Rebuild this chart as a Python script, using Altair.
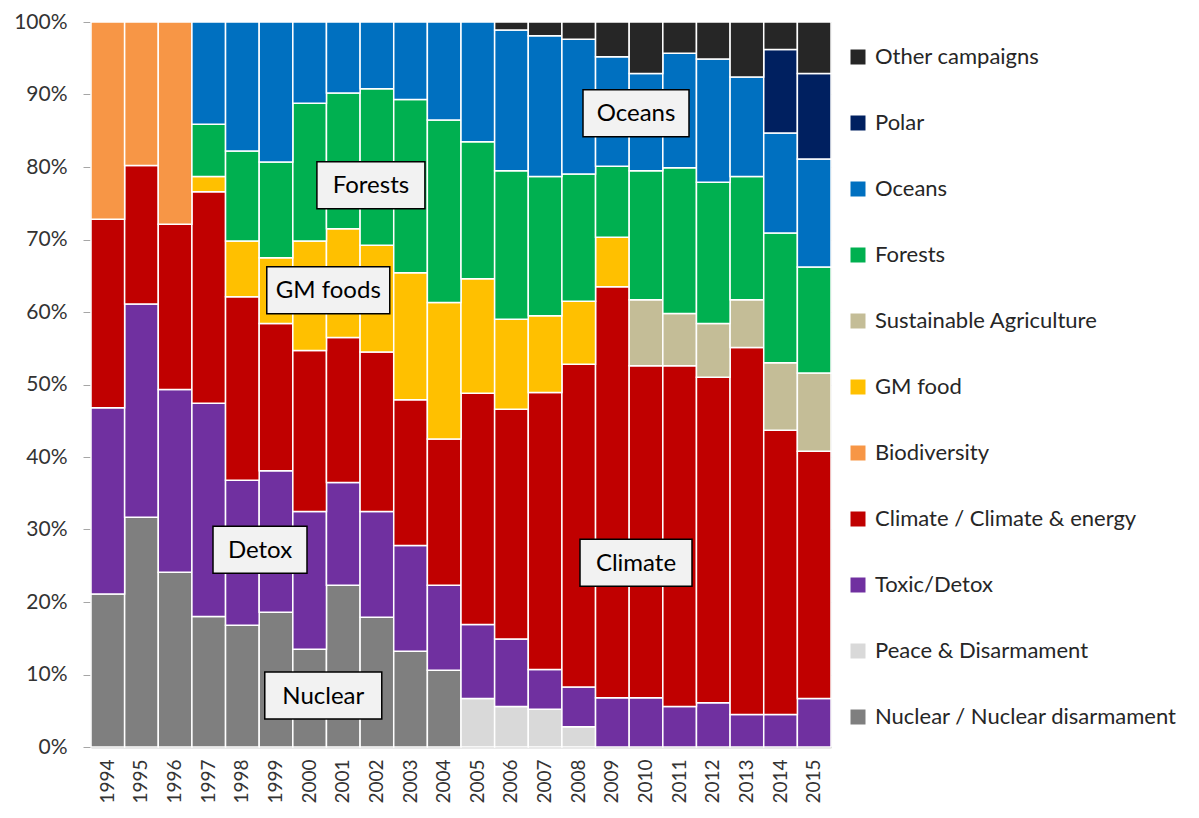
import altair as alt
import pandas as pd

years = [str(y) for y in range(1994, 2016)]

# Shares (%) per campaign, 1994..2015
nuclear = [21.1, 31.7, 24.1, 18.0, 16.8, 18.6, 13.5, 22.3, 17.9, 13.2, 10.6,
           0, 0, 0, 0, 0, 0, 0, 0, 0, 0, 0]
peace = [0, 0, 0, 0, 0, 0, 0, 0, 0, 0, 0,
         6.7, 5.6, 5.2, 2.8, 0, 0, 0, 0, 0, 0, 0]
toxic = [25.7, 29.4, 25.2, 29.4, 20.0, 19.5, 19.0, 14.2, 14.6, 14.6, 11.7,
         10.2, 9.3, 5.5, 5.5, 6.8, 6.8, 5.6, 6.1, 4.5, 4.5, 6.7]
climate = [26.0, 19.1, 22.8, 29.2, 25.3, 20.3, 22.2, 20.0, 22.0, 20.1, 20.2,
           31.9, 31.7, 38.2, 44.6, 56.7, 45.8, 47.0, 44.9, 50.6, 39.2, 34.1]
biodiversity = [27.2, 19.8, 27.9, 0, 0, 0, 0, 0, 0, 0, 0,
                0, 0, 0, 0, 0, 0, 0, 0, 0, 0, 0]
gm_food = [0, 0, 0, 2.1, 7.7, 9.1, 15.1, 15.0, 14.7, 17.5, 18.8,
           15.8, 12.4, 10.6, 8.7, 6.8, 0, 0, 0, 0, 0, 0]
sust_agri = [0, 0, 0, 0, 0, 0, 0, 0, 0, 0, 0,
             0, 0, 0, 0, 0, 9.1, 7.2, 7.4, 6.6, 9.3, 10.8]
forests = [0, 0, 0, 7.2, 12.4, 13.2, 19.0, 18.7, 21.6, 23.9, 25.2,
           18.9, 20.5, 19.2, 17.6, 9.8, 17.8, 20.1, 19.5, 17.0, 17.9, 14.6]
oceans = [0, 0, 0, 14.1, 17.8, 19.3, 11.2, 9.8, 9.2, 10.7, 13.5,
          16.5, 19.4, 19.4, 18.6, 15.1, 13.4, 15.8, 17.0, 13.7, 13.8, 14.9]
polar = [0, 0, 0, 0, 0, 0, 0, 0, 0, 0, 0,
         0, 0, 0, 0, 0, 0, 0, 0, 0, 11.5, 11.8]
other = [0, 0, 0, 0, 0, 0, 0, 0, 0, 0, 0,
         0, 1.1, 1.9, 2.4, 4.8, 7.1, 4.3, 5.1, 7.6, 3.8, 7.1]

# bottom -> top stacking order
series = [
    ("Nuclear / Nuclear disarmament", nuclear, "#7F7F7F"),
    ("Peace & Disarmament", peace, "#D9D9D9"),
    ("Toxic/Detox", toxic, "#7030A0"),
    ("Climate / Climate & energy", climate, "#C00000"),
    ("Biodiversity", biodiversity, "#F79646"),
    ("GM food", gm_food, "#FFC000"),
    ("Sustainable Agriculture", sust_agri, "#C4BD97"),
    ("Forests", forests, "#00B050"),
    ("Oceans", oceans, "#0070C0"),
    ("Polar", polar, "#002060"),
    ("Other campaigns", other, "#262626"),
]

rows = []
for i, (name, vals, _) in enumerate(series):
    for y, v in zip(years, vals):
        if v > 0:
            rows.append({"year": y, "campaign": name, "value": v, "order": i})
df = pd.DataFrame(rows)

legend_domain = [s[0] for s in series][::-1]
legend_colors = [s[2] for s in series][::-1]

FONT = "Lato"

x_enc = alt.X("year:N", sort=years, title=None,
              scale=alt.Scale(paddingInner=0, paddingOuter=0),
              axis=alt.Axis(labelAngle=-90, ticks=False, labelPadding=12,
                            labelFontSize=19, labelFont=FONT, labelColor="#333333",
                            domainColor="#A6A6A6", domainWidth=1.5, grid=False))

bars = alt.Chart(df).mark_bar(stroke="white", strokeWidth=1.5).encode(
    x=x_enc,
    y=alt.Y("value:Q", stack="normalize", title=None,
            scale=alt.Scale(domain=[0, 1], nice=False),
            axis=alt.Axis(format="%", values=[i / 10 for i in range(11)],
                          tickSize=8, tickColor="#A6A6A6", labelPadding=16,
                          labelFontSize=21, labelFont=FONT, labelColor="#333333",
                          domainColor="#A6A6A6", domainWidth=1.5,
                          grid=True, gridColor="#BFBFBF")),
    color=alt.Color("campaign:N",
                    scale=alt.Scale(domain=legend_domain, range=legend_colors),
                    legend=alt.Legend(title=None, orient="none", legendX=756, legendY=24,
                                      symbolType="square", symbolSize=225,
                                      symbolStrokeWidth=0, labelFont=FONT,
                                      labelFontSize=22, labelColor="#262626",
                                      labelLimit=400, rowPadding=44, labelOffset=6,
                                      padding=0)),
    order=alt.Order("order:Q", sort="ascending"),
)

# Annotation boxes (label, anchor year, anchor share, box width px, x offset px)
ann_labels = ["Forests", "GM foods", "Detox", "Nuclear", "Oceans", "Climate"]
ann_years = ["2002", "2001", "1999", "2001", "2010", "2010"]
ann_share = [0.775, 0.630, 0.272, 0.071, 0.874, 0.254]
ann_width = [108, 123, 94, 117, 106, 112]
ann_dx = [-6, -15, -16, -20, -10, -10]
BOX_H = 47

layers = [bars]
for lab, yr, sh, w, dx in zip(ann_labels, ann_years, ann_share, ann_width, ann_dx):
    d = pd.DataFrame({"year": [yr], "share": [sh], "label": [lab]})
    r = BOX_H / w
    path = f"M-1,{-r}L1,{-r}L1,{r}L-1,{r}Z"
    box = alt.Chart(d).mark_point(shape=path, size=w * w, filled=True, fill="#F2F2F2",
                                  stroke="#000000", strokeWidth=1.5, opacity=1,
                                  xOffset=dx).encode(
        x=alt.X("year:N", sort=years),
        y=alt.Y("share:Q"),
    )
    txt = alt.Chart(d).mark_text(font=FONT, fontSize=24, color="#000000",
                                 align="center", baseline="middle", xOffset=dx,
                                 dy=1).encode(
        x=alt.X("year:N", sort=years),
        y=alt.Y("share:Q"),
        text="label:N",
    )
    layers += [box, txt]

chart = alt.layer(*layers).properties(
    width=740, height=725,
    padding={"left": 83, "top": 14, "right": 355, "bottom": 62},
    autosize=alt.AutoSizeParams(type="none"),
).configure_view(stroke=None).configure(background="white")

chart.save("out.html", embed_options={"renderer": "svg", "actions": False})
